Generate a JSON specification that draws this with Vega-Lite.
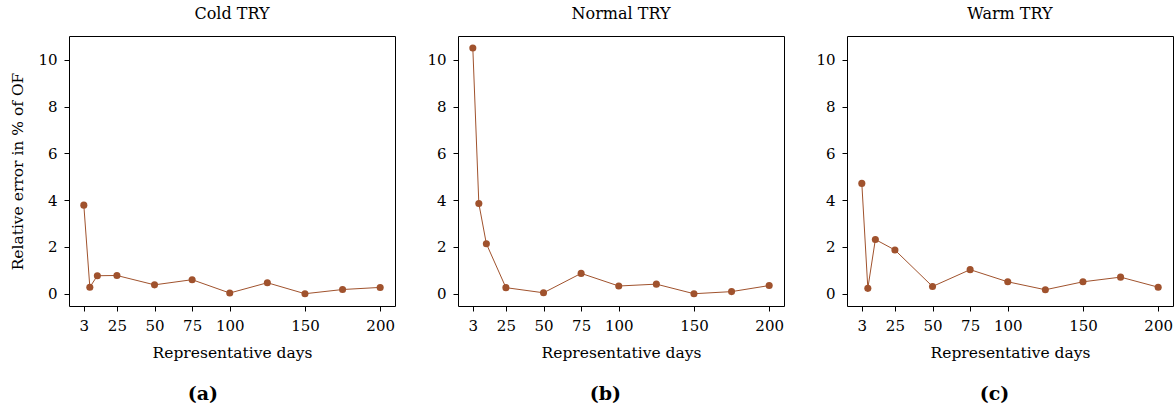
{
  "$schema": "https://vega.github.io/schema/vega-lite/v6.json",
  "background": "white",
  "padding": {"left": 10, "top": 5, "right": 5, "bottom": 5},
  "config": {
    "font": "DejaVu Serif",
    "view": {"stroke": "black", "strokeWidth": 1},
    "axis": {
      "grid": false,
      "domain": false,
      "tickColor": "black",
      "tickSize": 5,
      "labelPadding": 7,
      "labelFont": "DejaVu Serif",
      "labelFontSize": 15,
      "labelColor": "black",
      "titleFont": "DejaVu Serif",
      "titleFontSize": 15.5,
      "titleFontWeight": "normal",
      "titleColor": "black"
    },
    "title": {"font": "DejaVu Serif", "fontSize": 16, "fontWeight": "normal", "color": "black"},
    "concat": {"spacing": 30}
  },
  "datasets": {
    "err": [
      {"scenario": "Cold TRY", "days": 3, "error": 3.79},
      {"scenario": "Cold TRY", "days": 7, "error": 0.28},
      {"scenario": "Cold TRY", "days": 12, "error": 0.77},
      {"scenario": "Cold TRY", "days": 25, "error": 0.78},
      {"scenario": "Cold TRY", "days": 50, "error": 0.38},
      {"scenario": "Cold TRY", "days": 75, "error": 0.6},
      {"scenario": "Cold TRY", "days": 100, "error": 0.03},
      {"scenario": "Cold TRY", "days": 125, "error": 0.47},
      {"scenario": "Cold TRY", "days": 150, "error": 0.0},
      {"scenario": "Cold TRY", "days": 175, "error": 0.18},
      {"scenario": "Cold TRY", "days": 200, "error": 0.27},
      {"scenario": "Normal TRY", "days": 3, "error": 10.51},
      {"scenario": "Normal TRY", "days": 7, "error": 3.86},
      {"scenario": "Normal TRY", "days": 12, "error": 2.14},
      {"scenario": "Normal TRY", "days": 25, "error": 0.26},
      {"scenario": "Normal TRY", "days": 50, "error": 0.04},
      {"scenario": "Normal TRY", "days": 75, "error": 0.87},
      {"scenario": "Normal TRY", "days": 100, "error": 0.33},
      {"scenario": "Normal TRY", "days": 125, "error": 0.41},
      {"scenario": "Normal TRY", "days": 150, "error": 0.0},
      {"scenario": "Normal TRY", "days": 175, "error": 0.09},
      {"scenario": "Normal TRY", "days": 200, "error": 0.35},
      {"scenario": "Warm TRY", "days": 3, "error": 4.72},
      {"scenario": "Warm TRY", "days": 7, "error": 0.23},
      {"scenario": "Warm TRY", "days": 12, "error": 2.32},
      {"scenario": "Warm TRY", "days": 25, "error": 1.87},
      {"scenario": "Warm TRY", "days": 50, "error": 0.31},
      {"scenario": "Warm TRY", "days": 75, "error": 1.03},
      {"scenario": "Warm TRY", "days": 100, "error": 0.51},
      {"scenario": "Warm TRY", "days": 125, "error": 0.17},
      {"scenario": "Warm TRY", "days": 150, "error": 0.51},
      {"scenario": "Warm TRY", "days": 175, "error": 0.71},
      {"scenario": "Warm TRY", "days": 200, "error": 0.28}
    ]
  },
  "hconcat": [
    {
      "title": {"text": "(a)", "orient": "bottom", "anchor": "middle", "fontWeight": "bold", "fontSize": 19, "offset": 24},
      "vconcat": [
        {
          "title": {"text": "Cold TRY", "offset": 14},
          "width": 326, "height": 270,
          "data": {"name": "err"},
          "transform": [{"filter": "datum.scenario === 'Cold TRY'"}],
          "encoding": {
            "x": {"field": "days", "type": "quantitative", "scale": {"domain": [-6.85, 209.85], "nice": false, "zero": false},
                  "axis": {"values": [3, 25, 50, 75, 100, 150, 200], "title": "Representative days", "titlePadding": 12}},
            "y": {"field": "error", "type": "quantitative", "scale": {"domain": [-0.525, 11.025], "nice": false},
                  "axis": {"values": [0, 2, 4, 6, 8, 10], "title": "Relative error in % of OF", "titlePadding": 12}}
          },
          "layer": [
            {"mark": {"type": "line", "color": "#A0522D", "strokeWidth": 1}},
            {"mark": {"type": "point", "filled": true, "opacity": 1, "color": "#A0522D", "size": 50}}
          ]
        }
      ]
    },
    {
      "title": {"text": "(b)", "orient": "bottom", "anchor": "middle", "fontWeight": "bold", "fontSize": 19, "offset": 24},
      "vconcat": [
        {
          "title": {"text": "Normal TRY", "offset": 14},
          "width": 326, "height": 270,
          "data": {"name": "err"},
          "transform": [{"filter": "datum.scenario === 'Normal TRY'"}],
          "encoding": {
            "x": {"field": "days", "type": "quantitative", "scale": {"domain": [-6.85, 209.85], "nice": false, "zero": false},
                  "axis": {"values": [3, 25, 50, 75, 100, 150, 200], "title": "Representative days", "titlePadding": 12}},
            "y": {"field": "error", "type": "quantitative", "scale": {"domain": [-0.525, 11.025], "nice": false},
                  "axis": {"values": [0, 2, 4, 6, 8, 10], "title": null}}
          },
          "layer": [
            {"mark": {"type": "line", "color": "#A0522D", "strokeWidth": 1}},
            {"mark": {"type": "point", "filled": true, "opacity": 1, "color": "#A0522D", "size": 50}}
          ]
        }
      ]
    },
    {
      "title": {"text": "(c)", "orient": "bottom", "anchor": "middle", "fontWeight": "bold", "fontSize": 19, "offset": 24},
      "vconcat": [
        {
          "title": {"text": "Warm TRY", "offset": 14},
          "width": 326, "height": 270,
          "data": {"name": "err"},
          "transform": [{"filter": "datum.scenario === 'Warm TRY'"}],
          "encoding": {
            "x": {"field": "days", "type": "quantitative", "scale": {"domain": [-6.85, 209.85], "nice": false, "zero": false},
                  "axis": {"values": [3, 25, 50, 75, 100, 150, 200], "title": "Representative days", "titlePadding": 12}},
            "y": {"field": "error", "type": "quantitative", "scale": {"domain": [-0.525, 11.025], "nice": false},
                  "axis": {"values": [0, 2, 4, 6, 8, 10], "title": null}}
          },
          "layer": [
            {"mark": {"type": "line", "color": "#A0522D", "strokeWidth": 1}},
            {"mark": {"type": "point", "filled": true, "opacity": 1, "color": "#A0522D", "size": 50}}
          ]
        }
      ]
    }
  ]
}
